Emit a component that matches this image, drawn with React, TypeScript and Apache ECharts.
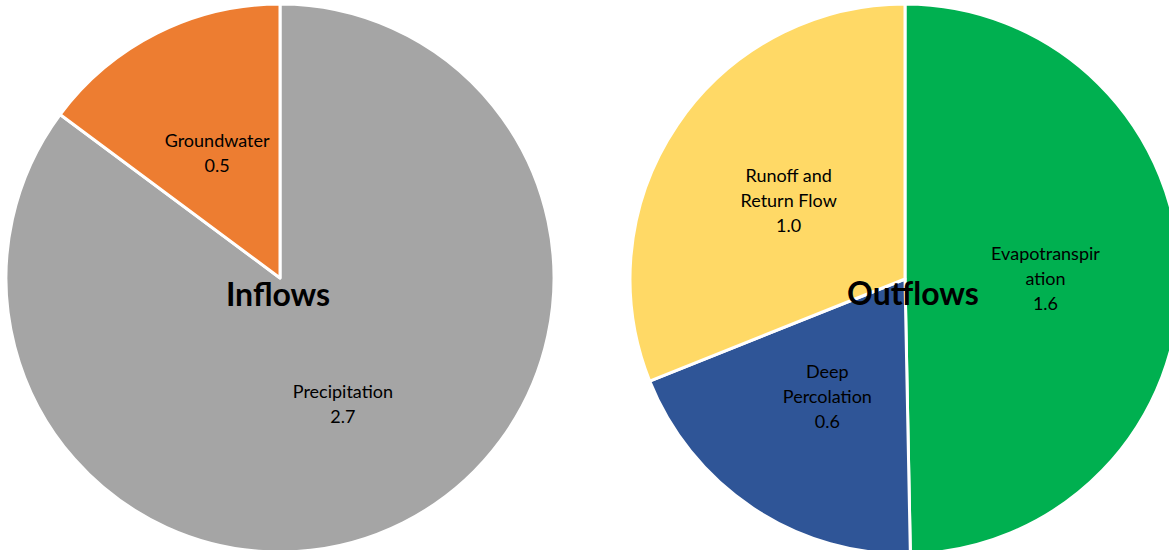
import React, { useEffect, useRef } from "react";
import * as echarts from "echarts";

const inflowNames = ["Precipitation", "Groundwater"];
const inflowLabels = ["Precipitation", "Groundwater"];
const inflowValues = [2.7, 0.47];
const inflowColors = ["#A5A5A5", "#ED7D31"];

const outflowNames = ["Evapotranspiration", "Deep Percolation", "Runoff and Return Flow"];
const outflowLabels = ["Evapotranspir\nation", "Deep\nPercolation", "Runoff and\nReturn Flow"];
const outflowValues = [1.6, 0.62, 1.0];
const outflowColors = ["#00B050", "#2F5597", "#FFD966"];

const titles = ["Inflows", "Outflows"];

export default function App() {
  const ref = useRef<HTMLDivElement>(null);
  useEffect(() => {
    if (!ref.current) return;
    const chart = echarts.init(ref.current, null, { renderer: "svg" });
    const labelStyle = {
      show: true,
      position: "inside",
      color: "#000",
      fontFamily: "Lato",
      fontSize: 18,
      lineHeight: 25,
      align: "center",
    };
    const mk = (names: string[], labels: string[], values: number[], colors: string[]) =>
      names.map((n, i) => ({
        name: n,
        value: values[i],
        itemStyle: { color: colors[i] },
        label: { formatter: labels[i] + "\n" + values[i].toFixed(1) },
      }));
    chart.setOption({
      animation: false,
      backgroundColor: "#fff",
      series: [
        {
          type: "pie",
          center: [280, 278],
          radius: [0, 274],
          startAngle: 90,
          clockwise: true,
          itemStyle: { borderColor: "#fff", borderWidth: 3 },
          label: labelStyle,
          labelLine: { show: false },
          emphasis: { disabled: true },
          data: mk(inflowNames, inflowLabels, inflowValues, inflowColors),
        },
        {
          type: "pie",
          center: [905, 279],
          radius: [0, 275],
          startAngle: 90,
          clockwise: true,
          itemStyle: { borderColor: "#fff", borderWidth: 3 },
          label: labelStyle,
          labelLine: { show: false },
          emphasis: { disabled: true },
          data: mk(outflowNames, outflowLabels, outflowValues, outflowColors),
        },
      ],
      graphic: [
        {
          type: "text",
          x: 278,
          y: 293,
          z: 100,
          style: {
            text: titles[0],
            fill: "#000",
            fontFamily: "Lato",
            fontWeight: "bold",
            fontSize: 32,
            textAlign: "center",
            textVerticalAlign: "middle",
          },
        },
        {
          type: "text",
          x: 913,
          y: 292,
          z: 100,
          style: {
            text: titles[1],
            fill: "#000",
            fontFamily: "Lato",
            fontWeight: "bold",
            fontSize: 32,
            textAlign: "center",
            textVerticalAlign: "middle",
          },
        },
      ],
    });
    return () => chart.dispose();
  }, []);
  return (
    <div
      ref={ref}
      style={{ position: "fixed", left: 0, top: 0, width: 1169, height: 550 }}
    />
  );
}
